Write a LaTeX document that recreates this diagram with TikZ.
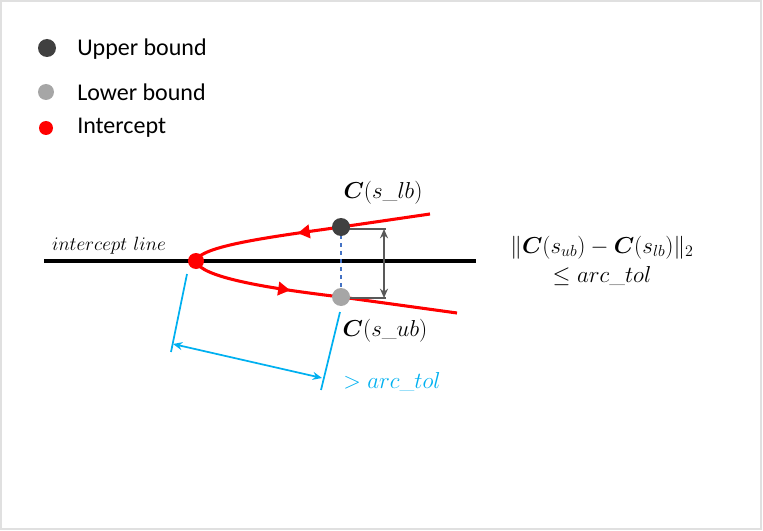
\documentclass[tikz,border=0pt]{standalone}
\usepackage{amsmath,amssymb,bm}
\usepackage{fontspec}
\newfontfamily\legendfont{Carlito}
\usetikzlibrary{arrows.meta,decorations.markings}
\definecolor{ubgray}{RGB}{64,64,64}
\definecolor{lbgray}{RGB}{166,166,166}
\definecolor{dimgray}{RGB}{89,89,89}
\definecolor{tolcyan}{RGB}{0,176,240}
\definecolor{dashblue}{RGB}{68,114,196}
\tikzset{
  ptdot/.style={circle, inner sep=0pt, minimum size=#1},
  legtext/.style={anchor=west, inner sep=0pt, font=\legendfont\fontsize{18}{21}\selectfont},
  mathlbl/.style={inner sep=0pt, font=\fontsize{16}{19}\selectfont},
  dimarrow/.style={{Stealth[length=7pt,width=6pt]}-{Stealth[length=7pt,width=6pt]}}
}

\begin{document}
\begin{tikzpicture}[x=0.75pt, y=-0.75pt]
    \useasboundingbox (0,0) rectangle (763,531);
    \draw[black!12, line width=1pt] (1,1) rectangle (761,529);
    % legend
    \node[ptdot=13.5pt, fill=ubgray] (legub) at (47,48) {};
    \node[ptdot=12pt, fill=lbgray] (leglb) at (46,92) {};
    \node[ptdot=10.5pt, fill=red] (legic) at (46,128) {};
    \node[legtext] (legubtxt) at (77,49) {Upper bound};
    \node[legtext] (leglbtxt) at (77,92) {Lower bound};
    \node[legtext] (legictxt) at (77,128) {Intercept};
    % intercept line
    \coordinate (lnstart) at (44,261);
    \coordinate (lnend) at (476,261);
    \draw[line width=2.5pt] (lnstart) -- (lnend);
    \node[mathlbl, font=\fontsize{15.5}{18}\selectfont] (lnlbl) at (109,246) {$intercept\ line$};
    % curve
    \coordinate (icpt) at (196,261);
    \coordinate (upr) at (341,227);
    \coordinate (lwr) at (341,297);
    \coordinate (topend) at (430,214);
    \coordinate (botend) at (457,313);
    \draw[red, line width=2.3pt, postaction={decorate}, decoration={markings,
        mark=at position 0.262 with {\arrow{Triangle[length=9pt,width=10pt]}},
        mark=at position 0.67 with {\arrow{Triangle[length=9pt,width=10pt]}}}]
      (topend) -- (upr) .. controls (270,237) and (200,246) .. (icpt)
      .. controls (200,277) and (265,288) .. (lwr) -- (botend);
    % bound distance
    \draw[dashblue, dashed, line width=1.2pt] (upr) -- (lwr);
    \coordinate (uprtick) at (386,229);
    \coordinate (lwrtick) at (386,298);
    \draw[dimgray, line width=1.8pt] (upr) ++(7,2) -- (uprtick);
    \draw[dimgray, line width=1.8pt] (lwr) ++(7,1) -- (lwrtick);
    \draw[dimgray, line width=1.6pt, dimarrow] ([xshift=-1.5pt]uprtick) -- ([xshift=-1.5pt]lwrtick);
    \node[ptdot=13.5pt, fill=ubgray] (ubdot) at (upr) {};
    \node[ptdot=13.5pt, fill=lbgray] (lbdot) at (lwr) {};
    \node[ptdot=12pt, fill=red] (icdot) at (icpt) {};
    \node[mathlbl] (lblub) at (383,193) {$\bm{C}(s\_lb)$};
    \node[mathlbl] (lbllb) at (385,331) {$\bm{C}(s\_ub)$};
    \node[mathlbl, align=center, font=\fontsize{17}{20}\selectfont] (tolnorm) at (602,261)
      {$\|\bm{C}(s_{ub})-\bm{C}(s_{lb})\|_2$\\[2pt] $\le arc\_tol$};
    % arc length
    \coordinate (ext1a) at (187,274);
    \coordinate (ext1b) at (171,352);
    \coordinate (ext2a) at (340,312);
    \coordinate (ext2b) at (321,390);
    \coordinate (arcfrom) at (173,344);
    \coordinate (arcto) at (322,378);
    \draw[tolcyan, line width=1.3pt] (ext1a) -- (ext1b);
    \draw[tolcyan, line width=1.3pt] (ext2a) -- (ext2b);
    \draw[tolcyan, line width=1.3pt, dimarrow] (arcfrom) -- (arcto);
    \node[mathlbl, text=tolcyan] (tollbl) at (392,382) {$> arc\_tol$};
\end{tikzpicture}
\end{document}
